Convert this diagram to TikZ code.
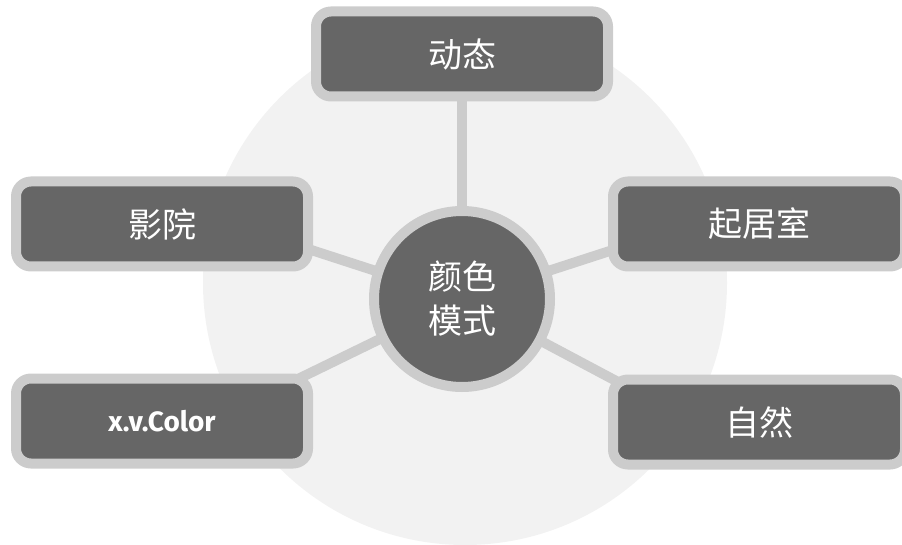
\documentclass[tikz,border=0pt]{standalone}
\usepackage{fontspec}
\setmainfont{Noto Sans CJK SC}
\newfontfamily\latinfont{Fira Sans}
\usetikzlibrary{calc}
\definecolor{bggray}{HTML}{F2F2F2}
\definecolor{linegray}{HTML}{CCCCCC}
\definecolor{boxgray}{HTML}{666666}
\pgfdeclarelayer{bg}
\pgfdeclarelayer{links}
\pgfsetlayers{bg,links,main}
\tikzset{
  box/.style={draw=linegray, fill=boxgray, line width=10pt, rounded corners=15pt,
    minimum width=292pt, minimum height=85pt, inner sep=0pt, text=white,
    font=\fontsize{34}{40}\selectfont},
  hub/.style={circle, draw=linegray, fill=boxgray, line width=10pt,
    minimum size=176pt, inner sep=0pt, text=white, align=center,
    font=\fontsize{34}{44}\selectfont},
  link/.style={draw=linegray, line width=10pt},
  latinlabel/.style={font=\latinfont\bfseries\fontsize{28}{34}\selectfont},
}
\begin{document}
\begin{tikzpicture}[x=1pt,y=-1pt]
\useasboundingbox (0,0) rectangle (902,545);
\begin{pgfonlayer}{bg}
  \fill[bggray] (465,283) circle[radius=262pt];
\end{pgfonlayer}
\node[hub] (c) at (462,299) {颜色\\模式};
\node[box] (t) at (462,54) {动态};
\node[box] (lu) at (162,224) {影院};
\node[box] (ru) at (759,224) {起居室};
\node[box, latinlabel] (ld) at (162,421) {x.v.Color};
\node[box] (rd) at (759,422) {自然};
\coordinate (luend) at ($(c.center)+(162:200pt)$);
\coordinate (ruend) at ($(c.center)+(18:200pt)$);
\coordinate (ldend) at ($(c.center)+(206:200pt)$);
\coordinate (rdend) at ($(c.center)+(-28:200pt)$);
\begin{pgfonlayer}{links}
  \draw[link] (c.center) -- (t.center);
  \draw[link] (c.center) -- (luend);
  \draw[link] (c.center) -- (ruend);
  \draw[link] (c.center) -- (ldend);
  \draw[link] (c.center) -- (rdend);
\end{pgfonlayer}
\end{tikzpicture}
\end{document}
